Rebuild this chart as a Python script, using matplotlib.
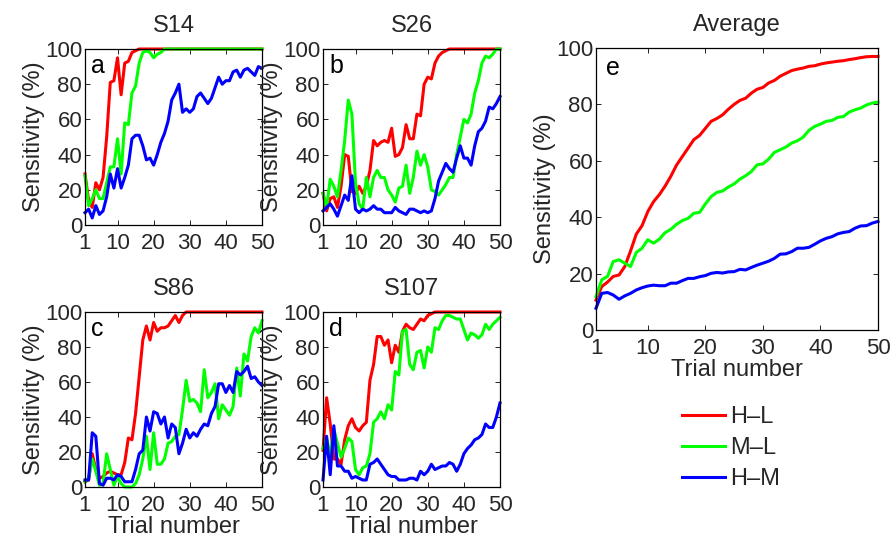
import matplotlib
matplotlib.use("Agg")
import matplotlib.pyplot as plt
import numpy as np

plt.rcParams['font.family'] = ['Liberation Sans', 'DejaVu Sans']

trials = np.arange(1, 51)
xticks = [1, 10, 20, 30, 40, 50]
yticks = [0, 20, 40, 60, 80, 100]

# Panel a: S14
a_hl = [29, 14, 10, 24, 20, 27, 50, 81, 82, 95, 74, 92, 93, 98, 99] + [100] * 35
a_ml = [28, 11, 15, 20, 15, 15, 24, 33, 33, 49, 29, 58, 57, 75, 79, 92, 98, 99, 98, 95,
        97, 98] + [100] * 28
a_hm = [7, 9, 4, 11, 6, 8, 16, 29, 21, 32, 21, 27, 34, 49, 51, 51, 45, 37, 38, 34,
        40, 47, 52, 59, 71, 75, 80, 64, 66, 64, 66, 73, 75, 72, 69, 72, 78, 84, 80, 82,
        82, 87, 88, 84, 88, 89, 87, 85, 90, 89]

# Panel b: S26
b_hl = [18, 8, 15, 16, 10, 22, 40, 39, 19, 18, 22, 18, 22, 31, 48, 45, 47, 48, 47, 55,
        39, 40, 44, 57, 49, 49, 63, 62, 80, 84, 83, 92, 96, 98, 99] + [100] * 15
b_ml = [18, 10, 26, 22, 16, 31, 48, 71, 63, 24, 12, 9, 27, 16, 27, 31, 27, 27, 20, 17,
        13, 21, 22, 34, 18, 27, 42, 34, 40, 33, 20, 19, 17, 20, 23, 27, 27, 40, 50, 60,
        58, 63, 75, 82, 92, 96, 95, 97, 100, 100]
b_hm = [8, 10, 12, 9, 5, 11, 17, 14, 28, 9, 7, 9, 8, 9, 11, 9, 9, 7, 7, 7,
        10, 8, 7, 6, 9, 9, 8, 7, 8, 7, 8, 15, 25, 30, 35, 32, 30, 38, 45, 38,
        38, 34, 45, 53, 55, 59, 67, 66, 69, 73]

# Panel c: S86
c_hl = [3, 4, 19, 10, 5, 6, 8, 9, 8, 7, 7, 14, 28, 27, 42, 63, 84, 92, 84, 94,
        89, 91, 91, 92, 95, 98, 94, 98] + [100] * 22
c_ml = [3, 5, 16, 9, 1, 2, 19, 10, 1, 6, 2, 0, 0, 0, 2, 7, 16, 29, 10, 31,
        13, 13, 16, 25, 26, 29, 30, 44, 61, 49, 50, 48, 43, 67, 51, 54, 59, 39, 47, 44,
        41, 46, 68, 52, 76, 72, 86, 91, 88, 95]
c_hm = [4, 4, 31, 29, 2, 1, 5, 5, 4, 7, 6, 3, 3, 3, 10, 19, 21, 40, 32, 43,
        42, 36, 40, 28, 36, 34, 19, 25, 33, 28, 31, 29, 33, 36, 35, 42, 46, 59, 59, 54,
        58, 54, 66, 64, 66, 69, 62, 63, 60, 58]

# Panel d: S107
d_hl = [21, 51, 36, 16, 16, 13, 27, 35, 39, 34, 32, 35, 37, 61, 70, 86, 86, 81, 84, 71,
        81, 77, 89, 93, 91, 90, 93, 96, 95, 98, 99] + [100] * 19
d_ml = [22, 28, 18, 33, 25, 17, 22, 28, 26, 10, 7, 11, 12, 19, 37, 39, 43, 39, 47, 44,
        66, 64, 89, 90, 70, 67, 77, 78, 68, 80, 77, 91, 90, 95, 98, 98, 97, 96, 96, 90,
        84, 88, 87, 85, 87, 93, 90, 93, 95, 97]
d_hm = [4, 29, 7, 35, 12, 12, 9, 9, 5, 6, 5, 4, 4, 13, 14, 16, 13, 10, 7, 6,
        6, 4, 4, 4, 5, 5, 4, 9, 7, 9, 13, 10, 11, 12, 12, 14, 13, 9, 13, 19,
        22, 24, 27, 28, 30, 36, 34, 34, 40, 48]

# Panel e: Average
e_hl = [10.6, 15.4, 17, 19, 19.5, 22.5, 28, 34, 37, 42, 45.5, 48, 51, 54.5, 58.5, 61.5,
        64.5, 67.5, 69, 71.5, 74, 75, 76.3, 78.3, 80, 81.4, 82.2, 84, 85.4, 86, 87.6,
        88.5, 90, 91, 92, 92.5, 92.9, 93.5, 93.7, 94.3, 94.7, 95, 95.3, 95.5, 95.9,
        96.2, 96.6, 96.9, 97, 97]
e_ml = [11.8, 17.8, 19, 24.3, 24.9, 23.7, 22.5, 27.5, 29, 32, 30.8, 32.2, 34.5, 35.7,
        37.5, 38.8, 39.6, 41.4, 41.7, 44.7, 47.3, 48.8, 49.3, 50.7, 51.8, 53.5, 54.7,
        56.2, 58.6, 58.9, 60.6, 63, 63.9, 64.9, 66.3, 67.1, 68.4, 70.8, 72.2, 73, 74,
        74.3, 75.4, 75.7, 77.3, 78.1, 78.7, 79.8, 80.5, 80.8]
e_hm = [7.7, 13, 13.3, 12.4, 10.9, 12.1, 13, 14.2, 15, 15.6, 15.9, 15.7, 15.7, 16.6,
        16.6, 17.5, 18.3, 18.3, 18.9, 19.3, 20.1, 20.4, 20.2, 20.6, 20.7, 21.5, 21.3,
        22.2, 23, 23.7, 24.4, 25.4, 26.9, 27, 27.8, 29, 29, 29.3, 30.4, 31.6, 32.5,
        33.1, 34.1, 34.6, 34.9, 36.1, 36.9, 37, 37.9, 38.5]

series_labels = ['H\u2013L', 'M\u2013L', 'H\u2013M']
colors = ['#ff0000', '#00ff00', '#0000ff']

panels = [
    ('S14', 'a', (a_hl, a_ml, a_hm), [85, 49, 262, 225], False),
    ('S26', 'b', (b_hl, b_ml, b_hm), [323, 49, 500, 225], False),
    ('S86', 'c', (c_hl, c_ml, c_hm), [85, 312, 262, 487], True),
    ('S107', 'd', (d_hl, d_ml, d_hm), [323, 312, 500, 487], True),
    ('Average', 'e', (e_hl, e_ml, e_hm), [596, 48, 878, 330], True),
]

W, H = 894, 539
fig = plt.figure(figsize=(W / 100, H / 100), dpi=100)
fs_tick = 16
fs_lab = 17
tc = '#262626'
lines_e = []
for title, letter, data, (l, t, r, b), has_xlabel in panels:
    ax = fig.add_axes([l / W, (H - b) / H, (r - l) / W, (b - t) / H])
    for vals, c, lab in zip(data, colors, series_labels):
        ln, = ax.plot(trials, vals, color=c, lw=2.2, label=lab, clip_on=False)
        if letter == 'e':
            lines_e.append(ln)
    ax.set_xlim(1, 50)
    ax.set_ylim(0, 100)
    ax.set_xticks(xticks)
    ax.set_yticks(yticks)
    ax.tick_params(direction='in', top=True, right=True, labelsize=fs_tick, length=3.5,
                   width=0.6, labelcolor=tc)
    ax.tick_params(axis='x', pad=6)
    ax.tick_params(axis='y', pad=2)
    for s in ax.spines.values():
        s.set_linewidth(0.9)
    ax.set_title(title, fontsize=fs_lab, pad=12, color=tc)
    if has_xlabel:
        ax.set_xlabel('Trial number', fontsize=fs_lab, labelpad=0, color=tc)
    ax.set_ylabel('Sensitivity (%)', fontsize=fs_lab, labelpad=0, color=tc)
    ax.text(0.035, 0.97, letter, transform=ax.transAxes, fontsize=18, va='top',
            ha='left', color='black')

leg = fig.legend(handles=lines_e, labels=series_labels, loc='center left',
                 bbox_to_anchor=(682 / W, (H - 448) / H), frameon=False, fontsize=fs_lab,
                 handlelength=1.8, handletextpad=0.25, labelspacing=0.38, borderpad=0,
                 borderaxespad=0)
for txt in leg.get_texts():
    txt.set_color(tc)

fig.savefig('out.png', dpi=100)
